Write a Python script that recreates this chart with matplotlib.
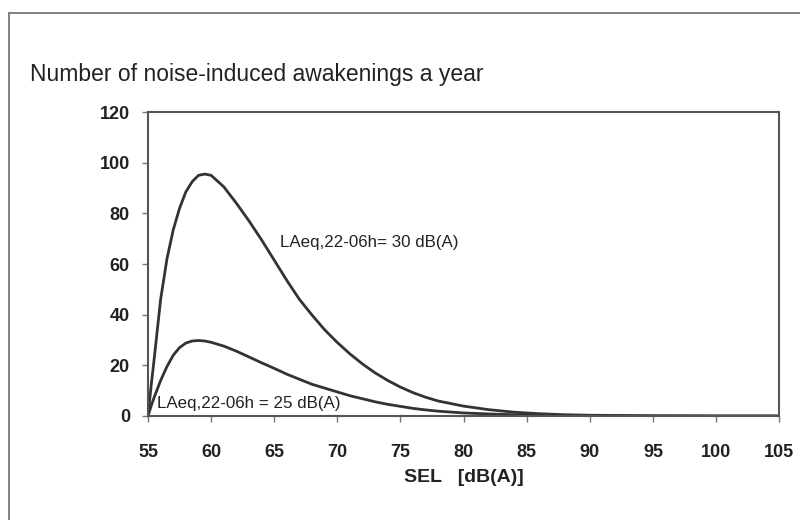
import matplotlib.pyplot as plt
from matplotlib.patches import Rectangle

sel = [55, 55.25, 55.5, 56, 56.5, 57, 57.5, 58, 58.5, 59, 59.5, 60,
       61, 62, 63, 64, 65, 66, 67, 68, 69, 70, 71, 72, 73, 74, 75, 76,
       77, 78, 80, 82, 84, 86, 88, 90, 95, 100, 105]

# number of awakenings a year, LAeq,22-06h = 30 dB(A)
awake_30 = [0, 12, 23, 46, 62, 73.5, 82, 88.5, 92.5, 95, 95.5, 95,
            90.5, 84, 77, 69.5, 61.5, 53.5, 46, 39.8, 34, 29, 24.5, 20.5,
            17, 14, 11.4, 9.2, 7.4, 5.9, 3.9, 2.5, 1.5, 0.9, 0.5, 0.3,
            0.08, 0, 0]

# number of awakenings a year, LAeq,22-06h = 25 dB(A)
awake_25 = [0, 4, 7.5, 14, 19.5, 24, 27, 28.8, 29.6, 29.8, 29.6, 29.1,
            27.6, 25.6, 23.3, 21, 18.8, 16.5, 14.5, 12.5, 11, 9.5, 8, 6.8,
            5.6, 4.6, 3.8, 3, 2.4, 1.9, 1.2, 0.8, 0.5, 0.3, 0.2, 0.1,
            0.03, 0, 0]

x_ticks = [55, 60, 65, 70, 75, 80, 85, 90, 95, 100, 105]
y_ticks = [0, 20, 40, 60, 80, 100, 120]

plt.rcParams["font.family"] = ["Liberation Sans", "DejaVu Sans"]

fig = plt.figure(figsize=(8, 5.2), dpi=100)
ax = fig.add_axes([0.185, 0.2, 0.789, 0.5846])

line_color = "#333333"
ax.plot(sel, awake_30, color=line_color, lw=2.0)
ax.plot(sel, awake_25, color=line_color, lw=2.0)

ax.set_xlim(55, 105)
ax.set_ylim(0, 120)
ax.set_xticks(x_ticks)
ax.set_yticks(y_ticks)
ax.tick_params(axis="both", direction="out", length=4, width=1,
               color="#777777", labelsize=13, labelcolor="#222222")
ax.tick_params(axis="y", pad=9)
ax.tick_params(axis="x", pad=16)
for lbl in ax.get_xticklabels() + ax.get_yticklabels():
    lbl.set_fontweight("bold")

for side in ax.spines.values():
    side.set_color("#555555")
    side.set_linewidth(1.5)

ax.set_xlabel("SEL   [dB(A)]", fontsize=14, fontweight="bold",
              color="#222222", labelpad=6)

ax.text(65.46, 68.3, "LAeq,22-06h= 30 dB(A)", fontsize=12.2,
        color="#222222", ha="left", va="center")
ax.text(55.7, 4.8, "LAeq,22-06h = 25 dB(A)", fontsize=12.2,
        color="#222222", ha="left", va="center")

fig.text(0.0375, 0.856, "Number of noise-induced awakenings a year",
         fontsize=16.5, color="#222222", ha="left", va="center")

# scanned page frame on top and left
fig.patches.append(Rectangle((9 / 800, -0.1), 1.2, 1.1 - 13 / 520,
                             transform=fig.transFigure, fill=False,
                             edgecolor="#777777", lw=1.3))

fig.savefig("out.png", dpi=100)
